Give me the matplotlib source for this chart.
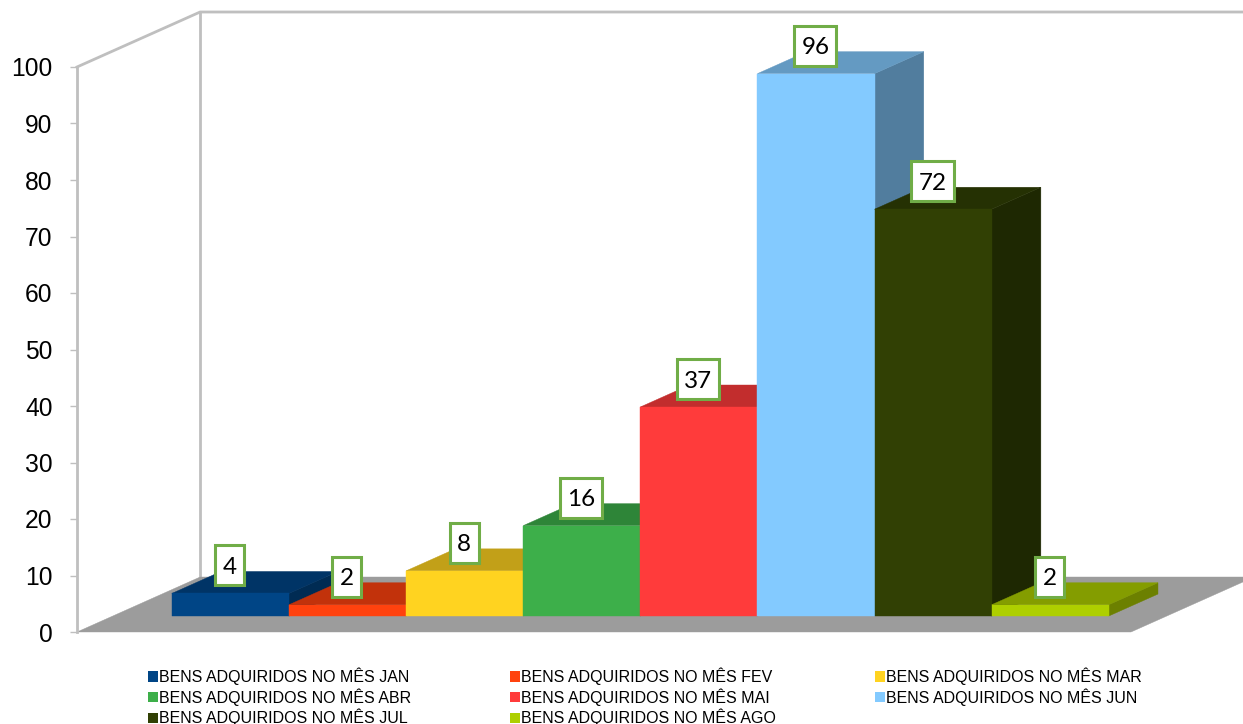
"""3D-look column chart of goods acquired per month, drawn with flat polygons."""

import matplotlib
matplotlib.use("Agg")
import matplotlib.pyplot as plt
from matplotlib.patches import Patch, Polygon, Rectangle

months = ["JAN", "FEV", "MAR", "ABR", "MAI", "JUN", "JUL", "AGO"]
values = [4, 2, 8, 16, 37, 96, 72, 2]
colors = ["#004586", "#ff420e", "#ffd320", "#3daf4a",
          "#ff3b3b", "#83caff", "#314004", "#aecf00"]
yticks = list(range(0, 101, 10))

# depth of the floor, in data units (x = bars, y = value)
DX = 123 / 117
DY = 55 / 5.65
Z_FRONT = 0.29
Z_BACK = 0.69
WALL = "#bfbfbf"


def proj(x, y, z):
    return (x + z * DX, y + z * DY)


def shade(color, f):
    r, g, b = matplotlib.colors.to_rgb(color)
    return (r * f, g * f, b * f)


def face(ax, pts, color, zorder):
    ax.add_patch(Polygon(pts, closed=True, facecolor=color, edgecolor=color,
                         linewidth=0.3, clip_on=False, zorder=zorder))


fig = plt.figure(figsize=(12.43, 7.24), dpi=100)
ax = fig.add_axes([77 / 1243, 92 / 724, 1054 / 1243, 565 / 724])
ax.set_xlim(0, 9)
ax.set_ylim(0, 100)

# floor and walls
face(ax, [proj(0, 0, 0), proj(9, 0, 0), proj(9, 0, 1), proj(0, 0, 1)], "#9c9c9c", 1)
ax.plot(*zip(proj(0, 0, 1), proj(0, 100, 1)), color=WALL, lw=2, clip_on=False, zorder=0)
ax.plot(*zip(proj(0, 100, 0), proj(0, 100, 1), proj(9, 100, 1)), color=WALL, lw=2,
        clip_on=False, zorder=0)

# bars, left to right so each one covers the side of the previous one
for i, (val, col) in enumerate(zip(values, colors)):
    x0, x1 = 0.505 + i, 1.505 + i
    y0, y1 = 0, val
    z = 2 + i
    face(ax, [proj(x1, y0, Z_FRONT), proj(x1, y0, Z_BACK),
              proj(x1, y1, Z_BACK), proj(x1, y1, Z_FRONT)], shade(col, 0.62), z)
    face(ax, [proj(x0, y1, Z_FRONT), proj(x1, y1, Z_FRONT),
              proj(x1, y1, Z_BACK), proj(x0, y1, Z_BACK)], shade(col, 0.76), z)
    face(ax, [proj(x0, y0, Z_FRONT), proj(x1, y0, Z_FRONT),
              proj(x1, y1, Z_FRONT), proj(x0, y1, Z_FRONT)], col, z)

# value labels stay above all bars; box drawn by hand to get its taller shape
box_h = 40 / 5.65
for i, val in enumerate(values):
    lx, ly = proj(1 + i, val, Z_FRONT)
    ly += 4.95
    box_w = (16 + 13 * len(str(val))) / 117
    ax.add_patch(Rectangle((lx - box_w / 2, ly - box_h / 2), box_w, box_h, facecolor="white",
                           edgecolor="#70ad47", linewidth=2.2, clip_on=False, zorder=29))
    ax.text(lx, ly - 0.35, str(val), ha="center", va="center", family="Lato",
            fontsize=17.5, color="black", zorder=30)

ax.patch.set_visible(False)
for side in ["top", "right", "bottom"]:
    ax.spines[side].set_visible(False)
ax.spines["left"].set_color(WALL)
ax.spines["left"].set_linewidth(2)
ax.set_xticks([])
ax.set_yticks(yticks)
ax.tick_params(axis="y", length=5, width=1, color=WALL, pad=12.5, labelsize=17.7)
for lab in ax.get_yticklabels():
    lab.set_family("Liberation Sans")

# matplotlib fills legend columns first, so reorder to read row by row
order = [0, 3, 6, 1, 4, 7, 2, 5]
handles = [Patch(facecolor=colors[k], edgecolor="none",
                 label="BENS ADQUIRIDOS NO MÊS " + months[k]) for k in order]
fig.legend(handles=handles, ncols=3, loc="upper left",
           bbox_to_anchor=(148 / 1243, 1 - 667.5 / 724), bbox_transform=fig.transFigure,
           frameon=False, borderpad=0, borderaxespad=0, handlelength=0.62,
           handleheight=0.62, handletextpad=0.05, columnspacing=6.2, labelspacing=0.2,
           prop={"family": "Liberation Sans", "size": 11.55})

fig.savefig("out.png", dpi=100)
